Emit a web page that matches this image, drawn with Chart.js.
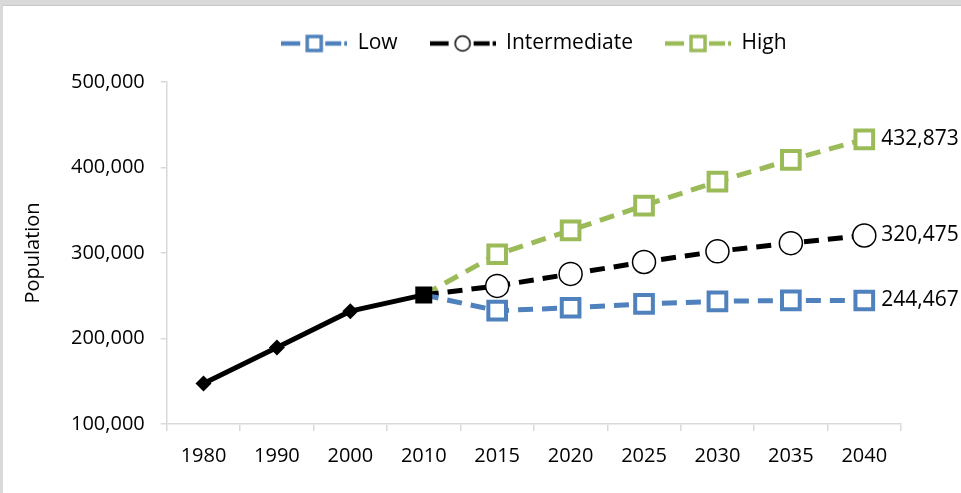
<!DOCTYPE html>
<html>
<head>
<meta charset="utf-8">
<script src="https://cdn.jsdelivr.net/npm/chart.js@4"></script>
<style>
  html, body { margin: 0; padding: 0; background: #d9d9d9; }
  #caja { position: absolute; left: 3px; top: 5px; width: 958px; height: 488px; background: #fff; border-top: 1px solid #c8c8c8; box-sizing: border-box; }
</style>
</head>
<body>
<div id="caja"><canvas id="grafica"></canvas></div>
<script>
const years = ["1980", "1990", "2000", "2010", "2015", "2020", "2025", "2030", "2035", "2040"];
const historical = [147500, 189500, 232000, 251000, null, null, null, null, null, null];
const low = [null, null, null, 251000, 232500, 236000, 240500, 243500, 244500, 244467];
const intermediate = [null, null, null, 251000, 261500, 275500, 289500, 302000, 311500, 320475];
const high = [null, null, null, 251000, 298500, 326500, 355500, 383500, 409000, 432873];
const yTicks = [100000, 200000, 300000, 400000, 500000];

const FONT = "'Open Sans', sans-serif";
const AZUL = "#4f81bd";
const VERDE = "#9bbb59";

// icono de leyenda: linea discontinua con el marcador en medio
function iconoLeyenda(color, tipo) {
    const c = document.createElement("canvas");
    c.width = 66; c.height = 24;
    const g = c.getContext("2d");
    g.strokeStyle = color;
    g.lineWidth = 4.5;
    [[0, 19], [44, 60], [63, 66]].forEach(s => {
        g.beginPath(); g.moveTo(s[0], 12); g.lineTo(s[1], 12); g.stroke();
    });
    g.fillStyle = "#fff";
    if (tipo === "circle") {
        g.lineWidth = 1.5;
        g.strokeStyle = "#000";
        g.beginPath(); g.arc(33, 12, 7.5, 0, Math.PI * 2); g.fill(); g.stroke();
    } else {
        g.lineWidth = 3.5;
        g.fillRect(26, 5, 14, 14);
        g.strokeRect(26, 5, 14, 14);
    }
    return c;
}

const etiquetasFinales = {
    id: "etiquetasFinales",
    afterDatasetsDraw(chart) {
        const ctx = chart.ctx;
        ctx.save();
        ctx.font = "21px " + FONT;
        ctx.fillStyle = "#000";
        ctx.textBaseline = "middle";
        [1, 2, 3].forEach(i => {
            const meta = chart.getDatasetMeta(i);
            const last = meta.data.length - 1;
            const p = meta.data[last];
            const v = chart.data.datasets[i].data[last];
            ctx.fillText(v.toLocaleString("en-US"), p.x + 17, p.y);
        });
        ctx.restore();
    }
};

const proyeccionRadio = r => ctx => ctx.dataIndex <= 3 ? 0 : r;

new Chart(document.getElementById("grafica"), {
    type: "line",
    data: {
        labels: years,
        datasets: [
            {
                label: "Historical",
                data: historical,
                borderColor: "#000",
                backgroundColor: "#000",
                borderWidth: 5,
                pointStyle: ["rectRot", "rectRot", "rectRot", "rect", "rect", "rect", "rect", "rect", "rect", "rect"],
                pointRadius: [8, 8, 8, 12, 0, 0, 0, 0, 0, 0],
                pointBorderWidth: 0,
                tension: 0
            },
            {
                label: "Low",
                data: low,
                borderColor: AZUL,
                borderWidth: 5,
                borderDash: [15, 9],
                pointStyle: "rect",
                pointRadius: proyeccionRadio(12.5),
                pointBorderWidth: 4,
                pointBorderColor: AZUL,
                pointBackgroundColor: "#fff"
            },
            {
                label: "Intermediate",
                data: intermediate,
                borderColor: "#000",
                borderWidth: 5,
                borderDash: [15, 9],
                pointStyle: "circle",
                pointRadius: proyeccionRadio(11.5),
                pointBorderWidth: 1.5,
                pointBorderColor: "#000",
                pointBackgroundColor: "#fff"
            },
            {
                label: "High",
                data: high,
                borderColor: VERDE,
                borderWidth: 5,
                borderDash: [15, 9],
                pointStyle: "rect",
                pointRadius: proyeccionRadio(12.5),
                pointBorderWidth: 4,
                pointBorderColor: VERDE,
                pointBackgroundColor: "#fff"
            }
        ]
    },
    options: {
        responsive: true,
        maintainAspectRatio: false,
        animation: false,
        events: [],
        layout: { padding: { top: -5, right: 60, bottom: 12, left: 0 } },
        plugins: {
            tooltip: { enabled: false },
            // espacio vacio entre la leyenda y el area del grafico
            subtitle: {
                display: true,
                text: "",
                weight: 500,
                fullSize: false,
                font: { size: 1, lineHeight: 1 },
                padding: { top: 0, bottom: 17 }
            },
            legend: {
                position: "top",
                fullSize: false,
                labels: {
                    font: { family: FONT, size: 21 },
                    color: "#000",
                    usePointStyle: true,
                    pointStyleWidth: 66,
                    padding: 32,
                    filter: item => item.datasetIndex > 0,
                    generateLabels: chart => chart.data.datasets.map((ds, i) => ({
                        text: ds.label,
                        datasetIndex: i,
                        pointStyle: i === 1 ? iconoLeyenda(AZUL, "rect")
                                  : i === 2 ? iconoLeyenda("#000", "circle")
                                  : iconoLeyenda(VERDE, "rect"),
                        fontColor: "#000",
                        lineWidth: 0,
                        hidden: false
                    }))
                }
            }
        },
        scales: {
            x: {
                offset: true,
                border: { color: "#d9d9d9", width: 1.5 },
                grid: { offset: true, drawOnChartArea: false, drawTicks: true, tickLength: 7, color: "#d9d9d9", lineWidth: 1.5 },
                ticks: { font: { family: FONT, size: 20 }, color: "#000", padding: 13, maxRotation: 0 }
            },
            y: {
                min: 100000,
                max: 500000,
                afterBuildTicks: axis => { axis.ticks = yTicks.map(v => ({ value: v })); },
                border: { color: "#d9d9d9", width: 1.5 },
                grid: { drawOnChartArea: false, drawTicks: true, tickLength: 6, color: "#d9d9d9", lineWidth: 1.5 },
                ticks: {
                    font: { family: FONT, size: 20 },
                    color: "#000",
                    padding: 16,
                    callback: v => v.toLocaleString("en-US")
                },
                title: {
                    display: true,
                    text: "Population",
                    font: { family: FONT, size: 20 },
                    color: "#000",
                    padding: { top: 18, bottom: 10 }
                }
            }
        }
    },
    plugins: [etiquetasFinales]
});
</script>
</body>
</html>
